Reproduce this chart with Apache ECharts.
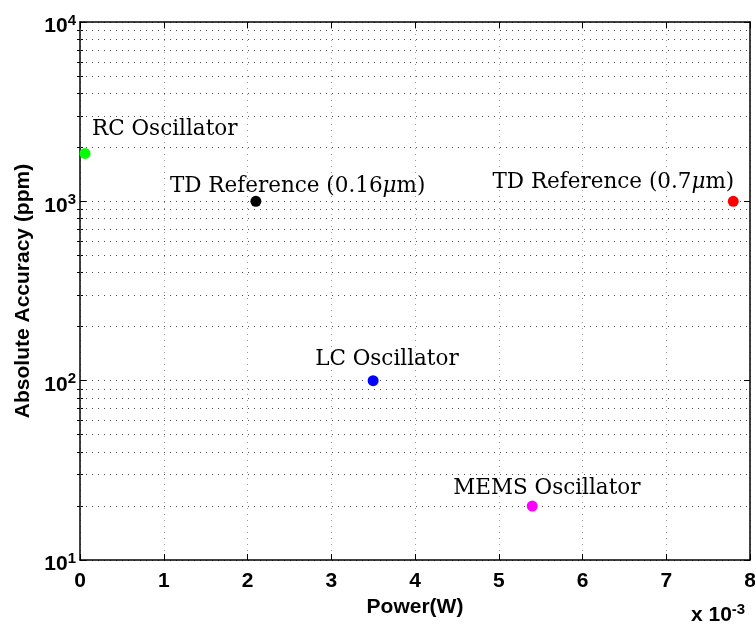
<!DOCTYPE html>
<html>
<head>
<meta charset="utf-8">
<script src="https://cdn.jsdelivr.net/npm/echarts@6/dist/echarts.min.js"></script>
<style>
  html, body { margin: 0; padding: 0; background: #fff; }
  #chart { width: 755px; height: 626px; }
</style>
</head>
<body>
<div id="chart"></div>
<script>
// Oscillator / reference designs: power vs. absolute accuracy
const designs = ['RC Oscillator', 'TD Reference (0.16μm)', 'TD Reference (0.7μm)', 'LC Oscillator', 'MEMS Oscillator'];
const powerMilliW = [0.06, 2.1, 7.8, 3.5, 5.4];        // power in units of 10^-3 W
const accuracyPpm = [1850, 1000, 1000, 100, 20];        // absolute accuracy, ppm
const markerColors = ['#00ff00', '#000000', '#ff0000', '#0000ff', '#ff00ff'];
const xTickValues = [0, 1, 2, 3, 4, 5, 6, 7, 8];
const yDecades = [10, 100, 1000, 10000];

// text placement next to each marker (pixels)
const labelPlacement = [
  { align: 'left',  offset: [7, -24] },
  { align: 'left',  offset: [-86, -15] },
  { align: 'right', offset: [1, -19] },
  { align: 'left',  offset: [-58, -21] },
  { align: 'left',  offset: [-79, -18] }
];

// minor log grid values: 2..9 within each decade
const minorValues = [];
for (let d = 0; d < yDecades.length - 1; d++) {
  for (let m = 2; m <= 9; m++) minorValues.push(m * yDecades[d]);
}

const sansBold = { fontFamily: 'Liberation Sans, Arial, sans-serif', fontWeight: 'bold', color: '#000' };
const serif = 'DejaVu Serif, serif';

function richName(name) {
  return name.split('μ').map(p => '{t|' + p + '}').join('{mu|μ}');
}

const scatterData = designs.map((name, i) => ({
  value: [powerMilliW[i], accuracyPpm[i]],
  name: name,
  itemStyle: { color: markerColors[i], opacity: 1 },
  label: {
    show: true,
    position: 'inside',
    align: labelPlacement[i].align,
    verticalAlign: 'middle',
    offset: labelPlacement[i].offset,
    color: '#000',
    opacity: 1,
    formatter: () => richName(name),
    rich: {
      t: { fontFamily: serif, fontSize: 21.5, color: '#000' },
      mu: { fontFamily: serif, fontSize: 21.5, fontStyle: 'italic', color: '#000' }
    }
  }
}));

const dotted = [1, 5];
const axisLineStyle = { color: '#000', width: 1.5 };

const yLabel = {
  margin: 4,
  padding: [6, 0, 0, 0],
  formatter: v => '{b|10}{s|' + Math.round(Math.log10(v)) + '}',
  rich: {
    b: Object.assign({ fontSize: 21, lineHeight: 24, verticalAlign: 'bottom' }, sansBold),
    s: Object.assign({ fontSize: 15, lineHeight: 8, verticalAlign: 'top' }, sansBold)
  }
};

function minorTickAxis(position) {
  return {
    type: 'log', logBase: 10, min: 10, max: 10000, position: position,
    axisLine: { show: false },
    axisLabel: { show: false },
    splitLine: { show: false },
    axisTick: { show: true, inside: true, length: 3, customValues: minorValues, lineStyle: { color: '#000' } }
  };
}

const option = {
  animation: false,
  backgroundColor: '#fff',
  grid: { left: 80, right: 5, top: 22, bottom: 66, containLabel: false, outerBoundsMode: 'none' },
  xAxis: [
    {
      type: 'value', min: 0, max: 8, interval: 1, position: 'bottom',
      axisLine: { show: true, onZero: false, lineStyle: axisLineStyle },
      axisTick: { show: true, inside: true, length: 6, lineStyle: { color: '#000' } },
      axisLabel: Object.assign({ margin: 11, fontSize: 21, lineHeight: 21,
        formatter: v => xTickValues.includes(v) ? String(v) : '' }, sansBold),
      splitLine: { show: true, lineStyle: { type: dotted, color: '#9a9a9a', width: 1 } },
      name: 'Power(W)', nameLocation: 'middle', nameGap: 35,
      nameTextStyle: Object.assign({ fontSize: 21 }, sansBold)
    },
    {
      type: 'value', min: 0, max: 8, interval: 1, position: 'top',
      axisLine: { show: true, onZero: false, lineStyle: axisLineStyle },
      axisTick: { show: true, inside: true, length: 6, lineStyle: { color: '#000' } },
      axisLabel: { show: false },
      splitLine: { show: false }
    }
  ],
  yAxis: [
    {
      type: 'log', logBase: 10, min: 10, max: 10000, position: 'left',
      axisLine: { show: true, onZero: false, lineStyle: axisLineStyle },
      axisTick: { show: true, inside: true, length: 6, lineStyle: { color: '#000' } },
      axisLabel: yLabel,
      splitLine: { show: true, lineStyle: { type: dotted, color: '#4a4a4a', width: 1 } },
      name: 'Absolute Accuracy (ppm)', nameLocation: 'middle', nameGap: 46,
      nameTextStyle: Object.assign({ fontSize: 21 }, sansBold)
    },
    {
      type: 'log', logBase: 10, min: 10, max: 10000, position: 'right',
      axisLine: { show: true, onZero: false, lineStyle: axisLineStyle },
      axisTick: { show: true, inside: true, length: 6, lineStyle: { color: '#000' } },
      axisLabel: { show: false },
      splitLine: { show: false }
    },
    minorTickAxis('left'),
    minorTickAxis('right')
  ],
  graphic: [
    {
      type: 'text', left: 691, top: 602, silent: true,
      style: {
        text: '{b|x 10}{s|-3}',
        rich: {
          b: Object.assign({ fontSize: 21, lineHeight: 24, verticalAlign: 'bottom' }, sansBold),
          s: Object.assign({ fontSize: 15, lineHeight: 8, verticalAlign: 'top' }, sansBold)
        }
      }
    }
  ],
  series: [
    {
      type: 'scatter',
      xAxisIndex: 0, yAxisIndex: 0,
      symbol: 'circle', symbolSize: 11,
      data: scatterData,
      itemStyle: { opacity: 1 },
      z: 5,
      markLine: {
        silent: true,
        symbol: ['none', 'none'],
        label: { show: false },
        lineStyle: { type: dotted, color: '#4a4a4a', width: 1 },
        data: minorValues.map(v => ({ yAxis: v }))
      }
    }
  ]
};

const chart = echarts.init(document.getElementById('chart'), null, { renderer: 'canvas' });
chart.setOption(option);
</script>
</body>
</html>
